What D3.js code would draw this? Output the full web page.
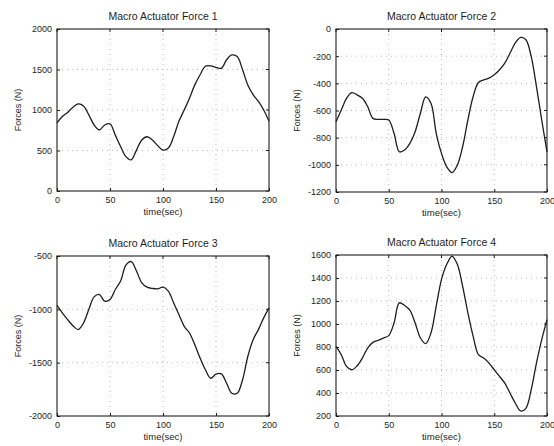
<!DOCTYPE html>
<html>
<head>
<meta charset="utf-8">
<script src="https://cdn.jsdelivr.net/npm/d3@7"></script>
<style>
  body { margin: 0; background: #fff; }
  svg { display: block; font-family: "Liberation Sans", Arial, sans-serif; }
</style>
</head>
<body>
<svg id="chart" width="554" height="446"></svg>
<script>
// time samples (sec)
const time = [0, 5, 10, 15, 20, 25, 30, 35, 40, 45, 50, 55, 60, 65, 70, 75, 80, 85, 90, 95, 100,
  105, 110, 115, 120, 125, 130, 135, 140, 145, 150, 155, 160, 165, 170, 175, 180, 185, 190, 195, 200];

const force1 = [840, 920, 970, 1035, 1075, 1050, 940, 815, 755, 815, 830, 690, 550, 425, 385, 505, 630, 670, 630, 560, 505,
  530, 670, 860, 1000, 1145, 1310, 1435, 1540, 1545, 1525, 1515, 1620, 1680, 1660, 1500, 1310, 1190, 1105, 1000, 860];
const force2 = [-682, -596, -510, -468, -485, -510, -571, -658, -665, -665, -670, -768, -904, -891, -842, -756, -620, -500, -547, -768, -916,
  -1015, -1057, -1002, -867, -670, -497, -394, -374, -362, -337, -300, -251, -177, -103, -62, -79, -202, -424, -670, -904];
const force3 = [-964, -1033, -1096, -1153, -1190, -1128, -1002, -883, -861, -924, -908, -814, -735, -585, -552, -641, -751, -792, -804, -808, -792,
  -829, -939, -1049, -1159, -1222, -1332, -1457, -1567, -1646, -1608, -1605, -1693, -1787, -1787, -1662, -1442, -1285, -1190, -1080, -986];
const force4 = [805, 733, 631, 602, 637, 704, 791, 840, 858, 878, 899, 1009, 1184, 1161, 1120, 1009, 878, 829, 922, 1155, 1388,
  1519, 1591, 1519, 1329, 1097, 893, 733, 704, 660, 602, 544, 485, 398, 311, 244, 267, 427, 660, 864, 1038];

const titles = ["Macro Actuator Force 1", "Macro Actuator Force 2", "Macro Actuator Force 3", "Macro Actuator Force 4"];
const xTicks = [0, 50, 100, 150, 200];
const yDomains = [[0, 2000], [-1200, 0], [-2000, -500], [200, 1600]];
const yTicks = [
  [0, 500, 1000, 1500, 2000],
  [-1200, -1000, -800, -600, -400, -200, 0],
  [-2000, -1500, -1000, -500],
  [200, 400, 600, 800, 1000, 1200, 1400, 1600]
];
const series = [force1, force2, force3, force4];

// plot boxes: left, top, right, bottom
const boxes = [
  [57, 29, 269, 191],
  [336, 29, 547, 192],
  [57, 256, 269, 416],
  [336, 255, 547, 416]
];

const svg = d3.select("#chart");
const ink = "#1e1e1e";

series.forEach((vals, i) => {
  const [l, t, r, b] = boxes[i];
  const x = d3.scaleLinear().domain([0, 200]).range([l, r]);
  const y = d3.scaleLinear().domain(yDomains[i]).range([b, t]);
  const g = svg.append("g");

  // dotted grid
  g.selectAll(".gx").data(xTicks.slice(1, -1)).enter().append("line")
    .attr("x1", d => x(d)).attr("x2", d => x(d))
    .attr("y1", t).attr("y2", b)
    .attr("stroke", "#aaa").attr("stroke-width", 0.8)
    .attr("stroke-dasharray", "1,4");
  g.selectAll(".gy").data(yTicks[i].slice(1, -1)).enter().append("line")
    .attr("x1", l).attr("x2", r)
    .attr("y1", d => y(d)).attr("y2", d => y(d))
    .attr("stroke", "#aaa").attr("stroke-width", 0.8)
    .attr("stroke-dasharray", "1,4");

  // axes, inward ticks
  const fmt = d => String(d);
  const xAxis = d3.axisBottom(x).tickValues(xTicks).tickFormat(fmt).tickSize(-3).tickPadding(6);
  const yAxis = d3.axisLeft(y).tickValues(yTicks[i]).tickFormat(fmt).tickSize(-3).tickPadding(5);
  const xa = g.append("g").attr("transform", `translate(0,${b})`).call(xAxis);
  const ya = g.append("g").attr("transform", `translate(${l},0)`).call(yAxis);
  [xa, ya].forEach(a => {
    a.select(".domain").remove();
    a.selectAll("line").attr("stroke", ink);
    a.selectAll("text").attr("fill", ink).attr("font-size", 9);
  });
  // top / right ticks
  g.selectAll(".tt").data(xTicks).enter().append("line")
    .attr("x1", d => x(d)).attr("x2", d => x(d)).attr("y1", t).attr("y2", t + 3)
    .attr("stroke", ink);
  g.selectAll(".tr").data(yTicks[i]).enter().append("line")
    .attr("x1", r - 3).attr("x2", r).attr("y1", d => y(d)).attr("y2", d => y(d))
    .attr("stroke", ink);

  // frame
  g.append("rect")
    .attr("x", l).attr("y", t).attr("width", r - l).attr("height", b - t)
    .attr("fill", "none").attr("stroke", ink).attr("stroke-width", 1.1);

  // curve
  const line = d3.line()
    .x((d, k) => x(time[k]))
    .y(d => y(d))
    .curve(d3.curveCatmullRom.alpha(0.5));
  g.append("path")
    .datum(vals)
    .attr("d", line)
    .attr("fill", "none")
    .attr("stroke", ink)
    .attr("stroke-width", 1.3);

  // labels
  g.append("text")
    .attr("x", (l + r) / 2).attr("y", t - 9)
    .attr("text-anchor", "middle").attr("font-size", 10.5).attr("fill", ink)
    .text(titles[i]);
  g.append("text")
    .attr("x", (l + r) / 2).attr("y", b + 24)
    .attr("text-anchor", "middle").attr("font-size", 9.5).attr("fill", ink)
    .text("time(sec)");
  g.append("text")
    .attr("transform", `translate(${l - 36},${(t + b) / 2}) rotate(-90)`)
    .attr("text-anchor", "middle").attr("font-size", 9).attr("fill", ink)
    .text("Forces (N)");
});
</script>
</body>
</html>
